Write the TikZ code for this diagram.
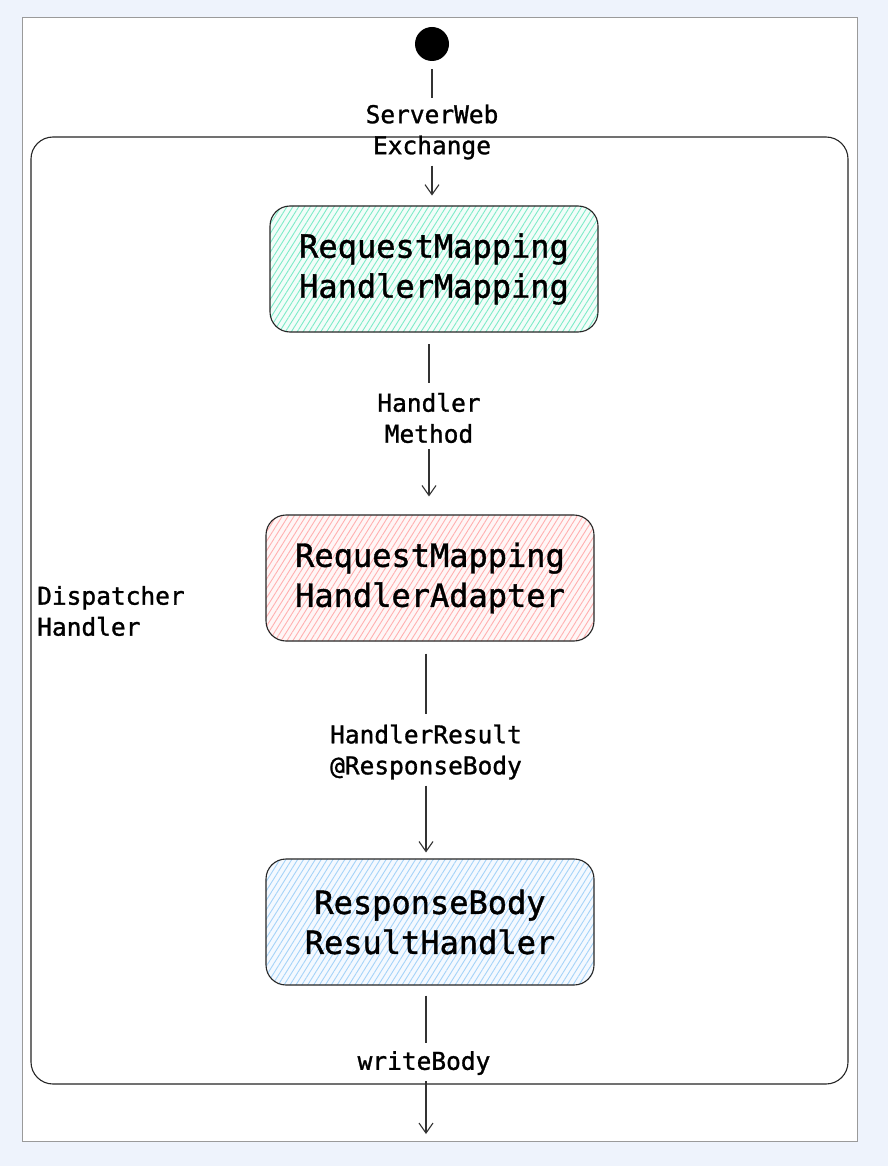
\documentclass[tikz,border=0pt]{standalone}
\usepackage{fontspec}
\setmonofont{DejaVu Sans Mono}[BoldFont=DejaVu Sans Mono, BoldFeatures={FakeBold=1.2}]
\usetikzlibrary{arrows.meta,patterns.meta,positioning}
\definecolor{pagebg}{HTML}{EEF3FC}
\definecolor{framegray}{HTML}{9A9A9A}
\definecolor{mapfill}{HTML}{F2FDF9}
\definecolor{maphatch}{HTML}{7EEBC8}
\definecolor{adafill}{HTML}{FFF6F6}
\definecolor{adahatch}{HTML}{FFB0B0}
\definecolor{resfill}{HTML}{F4F9FF}
\definecolor{reshatch}{HTML}{A5D3F8}
\tikzset{
	box/.style={draw=black!85, line width=1.1pt, rounded corners=20pt, minimum width=328pt, minimum height=126pt, align=center, font=\ttfamily\bfseries\fontsize{32}{40}\selectfont},
	hatch/.style={preaction={fill=#1fill}, pattern={Lines[angle=58,distance=5pt,line width=0.9pt]}, pattern color=#1hatch},
	lbl/.style={align=center, inner sep=6pt, font=\ttfamily\bfseries\fontsize{24.5}{31}\selectfont},
	flow/.style={draw=black!80, line width=1.1pt},
	flowto/.style={flow, -{Straight Barb[length=10pt,width=14pt,line width=1.1pt]}}
}

\begin{document}
\begin{tikzpicture}[x=1pt,y=-1pt]
	\fill[pagebg] (0,0) rectangle (888,1166);
	\useasboundingbox (0,0) rectangle (888,1166);
	\draw[framegray, fill=white, line width=1pt] (22,18) rectangle (857,1141);
	\draw[black!85, line width=1.1pt, rounded corners=22pt] (31,137) rectangle (848,1084);
	
	\node[circle, fill=black, minimum size=34pt, inner sep=0pt] (start) at (432,44) {};
	\node[lbl] (exch) at (432,132) {ServerWeb\\Exchange};
	
	\node[box, hatch=map] (hmap) at (434,269) {RequestMapping\\HandlerMapping};
	\node[lbl] (hmeth) at (429,418) {Handler\\Method};
	
	\node[box, hatch=ada] (hada) at (430,578) {RequestMapping\\HandlerAdapter};
	\node[lbl] (hres) at (426,752) {HandlerResult\\@ResponseBody};
	
	\node[box, hatch=res] (rbody) at (430,922) {ResponseBody\\ResultHandler};
	\node[lbl] (wbody) at (424,1063) {writeBody};
	\coordinate (out) at (426,1134);
	
	\node[lbl, anchor=west, align=left] (disp) at (31,611) {Dispatcher\\Handler};
	
	\draw[flow, shorten <=8pt] (start) -- (exch);
	\draw[flowto, shorten >=10pt] (exch) -- (exch |- hmap.north);
	\draw[flow, shorten <=12pt, shorten >=4pt] (hmap.south -| hmeth) -- (hmeth);
	\draw[flowto, shorten >=18pt] (hmeth) -- (hmeth |- hada.north);
	\draw[flow, shorten <=12pt, shorten >=4pt] (hada.south -| hres) -- (hres);
	\draw[flowto, shorten >=6pt] (hres) -- (hres |- rbody.north);
	\draw[flow, shorten <=10pt, shorten >=2pt] (rbody.south -| out) -- (wbody.north -| out);
	\draw[flowto] (wbody.south -| out) -- (out);
\end{tikzpicture}
\end{document}
